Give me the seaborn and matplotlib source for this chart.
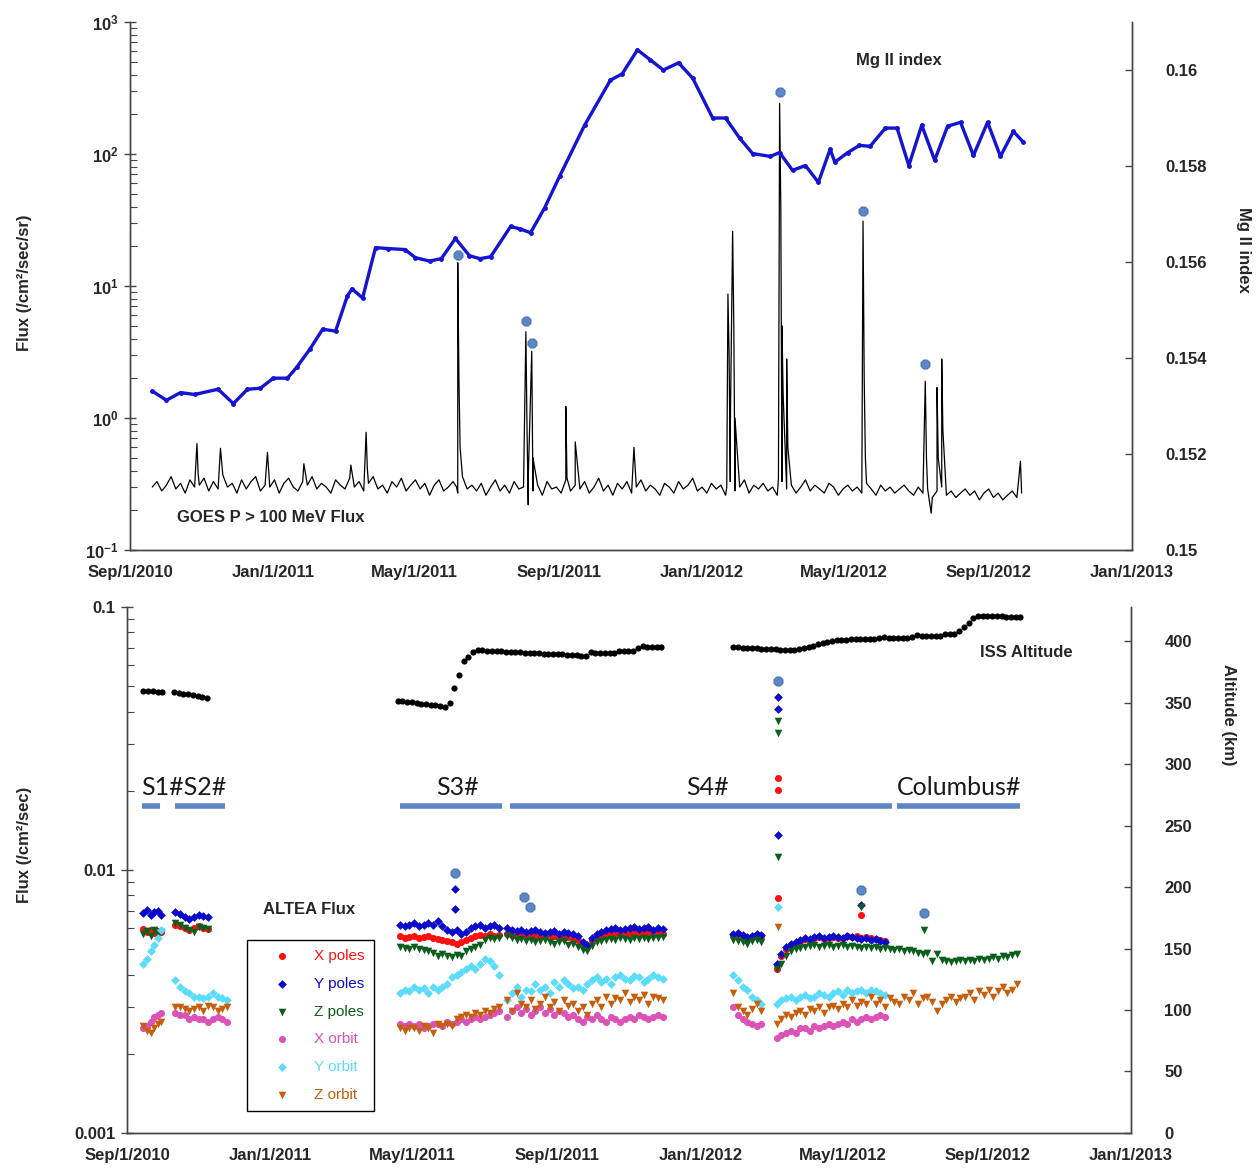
import numpy as np
import pandas as pd
import matplotlib
matplotlib.use("Agg")
import matplotlib.pyplot as plt
import matplotlib.dates as mdates
from matplotlib.ticker import LogLocator, FixedLocator, NullFormatter, FuncFormatter, LogFormatterMathtext
import seaborn as sns

# ---------------- data ----------------
# GOES P > 100 MeV background, one value every 4 days from 2010-09-20
goes_bg_start = "2010-09-20"
goes_bg = [
    0.30, 0.33, 0.28, 0.31, 0.36, 0.29, 0.32, 0.27, 0.34, 0.30,
    0.31, 0.35, 0.28, 0.33, 0.29, 0.37, 0.30, 0.32, 0.27, 0.34,
    0.29, 0.33, 0.36, 0.28, 0.31, 0.30, 0.34, 0.27, 0.32, 0.35,
    0.30, 0.28, 0.33, 0.31, 0.36, 0.29, 0.32, 0.30, 0.27, 0.34,
    0.31, 0.29, 0.35, 0.30, 0.33, 0.28, 0.32, 0.36, 0.29, 0.31,
    0.27, 0.33, 0.30, 0.35, 0.28, 0.31, 0.34, 0.29, 0.32, 0.26,
    0.31, 0.34, 0.28, 0.30, 0.33, 0.27, 0.36, 0.29, 0.31, 0.28,
    0.32, 0.26, 0.30, 0.34, 0.28, 0.31, 0.27, 0.33, 0.29, 0.30,
    0.35, 0.28, 0.31, 0.26, 0.33, 0.29, 0.30, 0.27, 0.34, 0.28,
    0.31, 0.29, 0.33, 0.27, 0.30, 0.35, 0.28, 0.31, 0.26, 0.32,
    0.29, 0.33, 0.27, 0.30, 0.34, 0.28, 0.31, 0.29, 0.26, 0.32,
    0.30, 0.27, 0.33, 0.29, 0.31, 0.35, 0.28, 0.30, 0.27, 0.32,
    0.29, 0.31, 0.26, 0.33, 0.28, 0.30, 0.34, 0.27, 0.31, 0.29,
    0.32, 0.28, 0.30, 0.26, 0.33, 0.29, 0.31, 0.27, 0.30, 0.34,
    0.28, 0.31, 0.29, 0.27, 0.32, 0.30, 0.26, 0.29, 0.31, 0.28,
    0.30, 0.27, 0.32, 0.29, 0.26, 0.31, 0.28, 0.30, 0.27, 0.29,
    0.31, 0.28, 0.26, 0.30, 0.27, 0.29, 0.25, 0.28, 0.30, 0.26,
    0.28, 0.25, 0.27, 0.29, 0.26, 0.28, 0.24, 0.27, 0.29, 0.25,
    0.27, 0.24, 0.26, 0.28, 0.25, 0.27,
]
# GOES event days (peaks and decay)
goes_evt_dates = [
    "2010-10-28", "2010-10-29", "2010-11-17", "2010-12-27", "2011-01-27",
    "2011-03-08", "2011-03-21", "2011-03-22",
    "2011-06-06", "2011-06-07", "2011-06-08", "2011-06-09",
    "2011-08-04", "2011-08-05", "2011-08-06", "2011-08-09", "2011-08-10",
    "2011-09-07", "2011-09-08", "2011-09-15", "2011-11-04",
    "2012-01-22", "2012-01-23", "2012-01-24", "2012-01-25",
    "2012-01-27", "2012-01-28", "2012-01-29",
    "2012-03-06", "2012-03-07", "2012-03-08", "2012-03-09", "2012-03-10",
    "2012-03-13", "2012-03-14",
    "2012-05-16", "2012-05-17", "2012-05-18", "2012-05-19",
    "2012-07-09", "2012-07-10", "2012-07-14", "2012-07-19", "2012-07-20",
    "2012-07-23", "2012-07-24", "2012-09-28",
]
goes_evt_flux = [
    0.64, 0.38, 0.59, 0.55, 0.45,
    0.44, 0.78, 0.42,
    0.30, 15.0, 2.0, 0.6,
    4.5, 0.8, 0.22, 3.2, 0.5,
    1.22, 0.35, 0.66, 0.60,
    0.30, 8.7, 3.0, 0.8,
    26.0, 5.0, 1.0,
    0.35, 242.0, 40.0, 5.0, 1.5,
    2.8, 0.6,
    0.30, 31.0, 2.0, 0.5,
    1.9, 0.5, 0.19, 1.7, 0.5,
    2.8, 0.8, 0.47,
]

# Mg II index
mg_dates = [
    "2010-09-20", "2010-10-02", "2010-10-14", "2010-10-26", "2010-11-15", "2010-11-28",
    "2010-12-10", "2010-12-21", "2011-01-01", "2011-01-13", "2011-01-21", "2011-02-01",
    "2011-02-12", "2011-02-23", "2011-03-05", "2011-03-09", "2011-03-18", "2011-03-29",
    "2011-04-09", "2011-04-23", "2011-05-02", "2011-05-14", "2011-05-24", "2011-06-05",
    "2011-06-17", "2011-06-26", "2011-07-05", "2011-07-22", "2011-07-30", "2011-08-08",
    "2011-08-20", "2011-09-02", "2011-09-23", "2011-10-15", "2011-10-25", "2011-11-07",
    "2011-11-18", "2011-11-29", "2011-12-12", "2011-12-24", "2012-01-10", "2012-01-21",
    "2012-02-02", "2012-02-13", "2012-02-28", "2012-03-07", "2012-03-18", "2012-03-29",
    "2012-04-09", "2012-04-19", "2012-04-23", "2012-05-04", "2012-05-14", "2012-05-23",
    "2012-06-05", "2012-06-15", "2012-06-25", "2012-07-06", "2012-07-17", "2012-07-28",
    "2012-08-08", "2012-08-19", "2012-08-31", "2012-09-11", "2012-09-22", "2012-09-30",
]
mg_index = [
    0.15331, 0.15312, 0.15328, 0.15324, 0.15335, 0.15305,
    0.15335, 0.15337, 0.15358, 0.15358, 0.15381, 0.15418,
    0.15460, 0.15456, 0.15529, 0.15544, 0.15525, 0.15630,
    0.15628, 0.15626, 0.15609, 0.15602, 0.15607, 0.15649,
    0.15613, 0.15607, 0.15611, 0.15674, 0.15669, 0.15661,
    0.15713, 0.15780, 0.15885, 0.15979, 0.15992, 0.16042,
    0.16021, 0.16000, 0.16015, 0.15983, 0.15900, 0.15900,
    0.15858, 0.15826, 0.15820, 0.15828, 0.15791, 0.15801,
    0.15766, 0.15835, 0.15808, 0.15828, 0.15843, 0.15841,
    0.15879, 0.15879, 0.15801, 0.15885, 0.15812, 0.15883,
    0.15891, 0.15822, 0.15891, 0.15820, 0.15872, 0.15851,
]

# solar particle events marked with a star
event_dates = ["2011-06-07", "2011-08-04", "2011-08-09", "2012-03-07", "2012-05-17", "2012-07-09"]
event_goes = [17.2, 5.42, 3.68, 294.0, 37.2, 2.55]
event_altea = [9.75e-3, 7.89e-3, 7.23e-3, 52.3e-3, 8.4e-3, 6.87e-3]

# ALTEA sessions: first day and sampling step (days)
seg_start = {"S1": "2010-09-15", "S2": "2010-10-12", "S3": "2011-04-21",
             "S4a": "2011-07-21", "S4b": "2012-01-29", "S4c": "2012-03-06"}
seg_step = {"S1": 3, "S2": 4, "S3": 4, "S4a": 4, "S4b": 4, "S4c": 4}

# ALTEA flux, units of 1e-3 /cm2/s
x_poles = {
    "S1": [5.95, 5.8, 5.9, 5.75, 5.85, 5.8],
    "S2": [6.2, 6.1, 6.0, 5.9, 6.0, 6.1, 6.0, 5.95],
    "S3": [5.6, 5.5, 5.55, 5.6, 5.5, 5.55, 5.6, 5.5, 5.45, 5.4, 5.35, 5.3, 5.25, 5.3,
           5.4, 5.5, 5.6, 5.65, 5.6, 5.7, 5.6, 5.65],
    "S4a": [5.7, 5.65, 5.6, 5.7, 5.6, 5.65, 5.6, 5.55, 5.6, 5.65, 5.6, 5.55, 5.5, 5.55,
            5.5, 5.4, 5.2, 5.1, 5.4, 5.5, 5.6, 5.65, 5.7, 5.75, 5.7, 5.7, 5.75, 5.8,
            5.7, 5.75, 5.8, 5.7, 5.75, 5.7],
    "S4b": [5.65, 5.7, 5.6, 5.5, 5.55, 5.65, 5.6],
    "S4c": [4.2, 4.7, 5.0, 5.2, 5.25, 5.35, 5.45, 5.4, 5.5, 5.55, 5.45, 5.5, 5.55, 5.5,
            5.5, 5.6, 5.55, 5.6, 5.5, 5.55, 5.5, 5.45, 5.4, 5.35],
}
y_poles = {
    "S1": [6.87, 7.05, 6.75, 6.9, 6.95, 6.75],
    "S2": [6.9, 6.8, 6.6, 6.5, 6.6, 6.75, 6.7, 6.6],
    "S3": [6.2, 6.1, 6.2, 6.3, 6.1, 6.2, 6.3, 6.2, 6.4, 6.1, 5.9, 5.8, 5.9, 5.7,
           5.8, 6.0, 6.1, 6.2, 6.0, 6.1, 6.2, 6.0],
    "S4a": [6.0, 5.9, 5.85, 5.9, 5.8, 5.85, 5.9, 5.8, 5.75, 5.8, 5.85, 5.7, 5.8, 5.75,
            5.7, 5.6, 5.3, 5.2, 5.5, 5.7, 5.8, 5.9, 5.95, 6.0, 5.9, 5.95, 6.0, 6.05,
            5.95, 6.0, 6.05, 5.9, 6.0, 5.95],
    "S4b": [5.7, 5.75, 5.65, 5.55, 5.6, 5.7, 5.65],
    "S4c": [4.4, 4.8, 5.1, 5.25, 5.3, 5.4, 5.5, 5.45, 5.55, 5.6, 5.5, 5.55, 5.6, 5.55,
            5.5, 5.6, 5.55, 5.5, 5.45, 5.5, 5.4, 5.45, 5.35, 5.3],
}
z_poles = {
    "S1": [5.7, 5.85, 5.6, 5.9, 5.7, 5.8],
    "S2": [6.3, 6.2, 6.0, 5.9, 5.8, 6.05, 6.0, 5.95],
    "S3": [5.1, 5.05, 5.0, 5.1, 5.0, 4.95, 4.9, 4.85, 4.7, 4.8, 4.7, 4.65, 4.75, 4.7,
           4.9, 5.0, 5.1, 5.2, 5.4, 5.5, 5.45, 5.5],
    "S4a": [5.6, 5.5, 5.4, 5.45, 5.35, 5.4, 5.3, 5.35, 5.4, 5.3, 5.25, 5.3, 5.35, 5.2,
            5.25, 5.1, 4.95, 4.9, 5.15, 5.3, 5.35, 5.4, 5.45, 5.4, 5.5, 5.45, 5.4, 5.5,
            5.45, 5.5, 5.45, 5.5, 5.5, 5.55],
    "S4b": [5.4, 5.35, 5.3, 5.25, 5.35, 5.4, 5.3],
    "S4c": [4.2, 4.4, 4.7, 4.9, 5.0, 5.05, 5.1, 5.15, 5.2, 5.1,
            5.15, 5.2, 5.1, 5.15, 5.2, 5.1, 5.15, 5.1, 5.05, 5.1,
            5.05, 5.1, 5.0, 5.05, 5.0, 4.95, 5.0, 4.9, 4.95, 4.9,
            4.85, 4.8, 4.85, 4.5, 4.8, 4.55, 4.5, 4.45, 4.5, 4.55,
            4.5, 4.55, 4.5, 4.6, 4.55, 4.6, 4.65, 4.6, 4.7, 4.65, 4.75, 4.8],
}
x_orbit = {
    "S1": [2.5, 2.55, 2.65, 2.75, 2.8, 2.85],
    "S2": [2.85, 2.8, 2.8, 2.7, 2.75, 2.7, 2.7, 2.65, 2.7, 2.75, 2.7, 2.65],
    "S3": [2.6, 2.55, 2.6, 2.55, 2.6, 2.5, 2.55, 2.6, 2.6, 2.55, 2.65, 2.6, 2.65, 2.7,
           2.65, 2.7, 2.75, 2.7, 2.75, 2.8, 2.85, 2.9],
    "S4a": [2.75, 2.9, 3.0, 2.85, 2.95, 2.8, 2.9, 3.0, 2.85, 2.95, 2.8, 2.9, 2.85, 2.75,
            2.8, 2.7, 2.65, 2.75, 2.7, 2.8, 2.7, 2.65, 2.75, 2.7, 2.65, 2.7, 2.75, 2.7,
            2.8, 2.75, 2.7, 2.75, 2.8, 2.75],
    "S4b": [3.0, 2.8, 2.7, 2.65, 2.6, 2.55, 2.6],
    "S4c": [2.3, 2.35, 2.4, 2.45, 2.4, 2.5, 2.5, 2.45, 2.55, 2.5, 2.55, 2.6, 2.55, 2.6,
            2.65, 2.6, 2.7, 2.65, 2.7, 2.75, 2.7, 2.75, 2.8, 2.75],
}
y_orbit = {
    "S1": [4.4, 4.6, 4.9, 5.2, 5.5, 5.9],
    "S2": [3.8, 3.6, 3.45, 3.4, 3.3, 3.3, 3.25, 3.3, 3.4, 3.3, 3.25, 3.2],
    "S3": [3.4, 3.5, 3.45, 3.6, 3.5, 3.55, 3.4, 3.6, 3.5, 3.6, 3.7, 3.9, 4.0, 4.1,
           4.2, 4.3, 4.2, 4.4, 4.6, 4.5, 4.3, 4.0],
    "S4a": [3.2, 3.4, 3.6, 3.3, 3.5, 3.45, 3.7, 3.5, 3.6, 3.4, 3.75, 3.6, 3.8, 3.7,
            3.55, 3.6, 3.5, 3.7, 3.8, 3.9, 3.75, 3.85, 3.7, 3.9, 4.0, 3.85, 3.8, 3.95,
            3.9, 3.75, 3.85, 4.0, 3.9, 3.85],
    "S4b": [4.0, 3.8, 3.6, 3.5, 3.3, 3.2, 3.1],
    "S4c": [3.1, 3.2, 3.25, 3.3, 3.2, 3.3, 3.35, 3.25, 3.3, 3.4, 3.35, 3.3, 3.4, 3.45,
            3.35, 3.5, 3.4, 3.45, 3.5, 3.4, 3.5, 3.45, 3.4, 3.35],
}
z_orbit = {
    "S1": [2.55, 2.45, 2.4, 2.5, 2.6, 2.65],
    "S2": [3.0, 3.0, 2.95, 2.9, 2.95, 3.0, 2.9, 3.05, 3.0, 2.9, 2.95, 3.0],
    "S3": [2.5, 2.45, 2.5, 2.5, 2.45, 2.55, 2.5, 2.4, 2.6, 2.55, 2.6, 2.55, 2.7, 2.75,
           2.8, 2.75, 2.85, 2.8, 2.9, 2.85, 2.95, 3.0],
    "S4a": [3.2, 2.9, 3.4, 3.1, 3.0, 3.2, 2.95, 3.1, 3.3, 3.0, 3.15, 2.9, 3.2, 3.05,
            3.1, 2.9, 3.0, 2.8, 3.1, 3.2, 3.0, 3.3, 3.1, 3.25, 3.2, 3.4, 3.15, 3.3,
            3.2, 3.35, 3.1, 3.3, 3.25, 3.2],
    "S4b": [3.4, 3.0, 2.9, 2.8, 2.95, 3.1, 2.9],
    "S4c": [2.6, 2.7, 2.8, 2.75, 2.85, 2.9, 2.8, 2.95, 2.9, 3.0,
            2.85, 3.0, 3.05, 2.95, 3.1, 3.0, 3.2, 3.05, 3.15, 3.1,
            3.3, 3.1, 3.2, 3.0, 3.25, 3.15, 3.1, 3.3, 3.2, 3.4,
            3.1, 3.25, 3.3, 3.15, 2.9, 3.1, 3.2, 3.3, 3.15, 3.25,
            3.3, 3.4, 3.2, 3.45, 3.35, 3.5, 3.3, 3.45, 3.6, 3.4, 3.5, 3.7],
}
# extra readings on event days (date, value in 1e-3)
event_extra = {
    "X poles": [("2012-03-07", 22.4), ("2012-03-07", 20.1), ("2012-03-07", 7.8), ("2012-05-17", 6.75)],
    "Y poles": [("2011-06-07", 8.47), ("2011-06-07", 7.1), ("2012-03-07", 45.5),
                ("2012-03-07", 40.9), ("2012-03-07", 13.6), ("2012-05-17", 7.36)],
    "Z poles": [("2012-03-07", 36.9), ("2012-03-07", 33.2), ("2012-03-07", 11.2),
                ("2012-05-17", 7.2), ("2012-07-09", 5.9)],
    "X orbit": [],
    "Y orbit": [("2012-03-07", 7.2)],
    "Z orbit": [("2012-03-07", 6.07)],
}

# ISS altitude (km), one value every 4 days per block
alt_start = ["2010-09-15", "2010-10-11", "2011-04-19", "2012-01-29"]
alt_values = [
    [360.0, 359.6, 359.2, 358.9, 358.5],
    [358.5, 358.0, 357.5, 357.0, 356.3, 355.6, 355.0, 354.3],
    [351.8, 351.3, 350.8, 350.3, 349.8, 349.3, 348.8, 348.3, 347.8, 347.3, 346.8,
     350.0, 362.0, 373.0, 384.0, 387.5, 391.0, 392.7,
     392.6, 392.4, 392.3, 392.0, 391.8, 391.7, 391.4, 391.2, 391.1, 390.8, 390.6,
     390.5, 390.2, 390.0, 389.9, 389.6, 389.4, 389.3, 389.0, 388.8, 388.7, 388.4,
     388.2, 391.0, 390.9, 390.7, 390.6, 390.4, 390.3, 392.5, 392.4, 392.2,
     392.1, 394.2, 396.0, 395.8, 395.7, 395.5, 395.4],
    [395.2, 395.0, 394.8, 394.6, 394.4, 394.3, 394.1, 393.9, 393.7, 393.5, 393.3, 393.2, 393.0, 392.8,
     393.5, 394.8, 395.6, 396.4, 397.5, 398.3,
     399.8, 400.5, 401.2, 401.1, 400.9, 401.5, 402.2, 402.0,
     401.9, 401.8, 401.7, 402.6, 403.3, 403.1, 403.0, 402.9, 402.8, 402.7, 403.9,
     404.8, 404.6, 404.5, 404.4, 404.3, 404.2, 405.6, 406.3, 406.1, 408.2,
     411.5, 415.0, 419.0, 421.0,
     420.8, 420.7, 420.5, 420.4, 420.3, 420.1, 420.0, 419.9, 419.7],
]

# ALTEA session periods
session_names = ["S1#S2#", "S3#", "S4#", "Columbus#"]
session_begin = ["2010-09-14", "2010-10-12", "2011-04-21", "2011-07-23", "2012-06-16"]
session_end = ["2010-09-29", "2010-11-23", "2011-07-17", "2012-06-12", "2012-09-29"]
session_level = 0.0175

series_names = ["X poles", "Y poles", "Z poles", "X orbit", "Y orbit", "Z orbit"]
series_data = [x_poles, y_poles, z_poles, x_orbit, y_orbit, z_orbit]
series_colors = ["#ff1010", "#0a0acc", "#0b5e1c", "#dc52b8", "#5adcfa", "#c65e0c"]
series_markers = ["o", "D", "v", "o", "D", "v"]
series_sizes = [26, 20, 30, 26, 20, 30]


def altea_frame(segs, extra):
    rows = []
    for key, vals in segs.items():
        d = pd.date_range(seg_start[key], periods=len(vals), freq=f"{seg_step[key]}D")
        rows.append(pd.DataFrame({"date": d, "flux": np.array(vals) * 1e-3}))
    if extra:
        rows.append(pd.DataFrame({"date": pd.to_datetime([e[0] for e in extra]),
                                  "flux": [e[1] * 1e-3 for e in extra]}))
    return pd.concat(rows, ignore_index=True)


goes_df = pd.concat([
    pd.DataFrame({"date": pd.date_range(goes_bg_start, periods=len(goes_bg), freq="4D"),
                  "flux": goes_bg}),
    pd.DataFrame({"date": pd.to_datetime(goes_evt_dates), "flux": goes_evt_flux}),
]).sort_values("date").reset_index(drop=True)

mg_df = pd.DataFrame({"date": pd.to_datetime(mg_dates), "mg": mg_index})

alt_df = pd.concat([
    pd.DataFrame({"date": pd.date_range(s, periods=len(v), freq="4D"), "alt": v})
    for s, v in zip(alt_start, alt_values)
], ignore_index=True)

ev = pd.to_datetime(event_dates)

# ---------------- style ----------------
sns.set_theme(style="white")
plt.rcParams['font.family'] = ['Liberation Sans', 'DejaVu Sans']
plt.rcParams['mathtext.default'] = 'bf'

fig = plt.figure(figsize=(12.56, 11.71), dpi=100)
ax1 = fig.add_axes([0.1035, 0.5303, 0.7978, 0.4509])
ax2 = fig.add_axes([0.1011, 0.0325, 0.7994, 0.4492])
ax1r = ax1.twinx()
ax2r = ax2.twinx()

xmin, xmax = pd.Timestamp("2010-09-01"), pd.Timestamp("2013-01-01")
date_ticks = pd.date_range("2010-09-01", "2013-01-01", freq="4MS")
star_color = "#5b87c6"


def date_label(x, pos):
    d = mdates.num2date(x)
    return f"{d:%b}/{d.day}/{d.year}"


# ---------------- top panel ----------------
sns.lineplot(data=goes_df, x="date", y="flux", estimator=None, sort=True,
             color="black", lw=0.9, ax=ax1)
sns.scatterplot(x=ev, y=event_goes, marker="8", s=50, color=star_color,
                edgecolor="#3d6aa8", linewidth=0.6, ax=ax1, zorder=5)
ax1.set_yscale("log")
ax1.set_ylim(0.1, 1000)
sns.lineplot(data=mg_df, x="date", y="mg", color="#1414d2", lw=2.4, marker="o",
             markersize=3.5, markeredgewidth=0, ax=ax1r)
ax1r.set_ylim(0.150, 0.161)
ax1r.yaxis.set_major_locator(FixedLocator([0.150, 0.152, 0.154, 0.156, 0.158, 0.160]))
ax1r.yaxis.set_major_formatter(FuncFormatter(lambda v, p: f"{v:.3f}".rstrip("0")))

ax1.text(0.7246, 0.928, "Mg II index", transform=ax1.transAxes, fontsize=12,
         fontweight="bold", va="center")
ax1.text(0.0469, 0.0625, "GOES P > 100 MeV Flux", transform=ax1.transAxes, fontsize=12,
         fontweight="bold", va="center")

# ---------------- bottom panel ----------------
for name, segs, col, mk, sz in zip(series_names, series_data, series_colors,
                                   series_markers, series_sizes):
    df = altea_frame(segs, event_extra[name])
    sns.scatterplot(data=df, x="date", y="flux", marker=mk, s=sz, color=col,
                    linewidth=0, label=name, ax=ax2)
sns.scatterplot(x=ev, y=event_altea, marker="8", s=50, color=star_color,
                edgecolor="#3d6aa8", linewidth=0.6, ax=ax2, zorder=5)
for b, e in zip(session_begin, session_end):
    ax2.plot([pd.Timestamp(b), pd.Timestamp(e)], [session_level, session_level],
             color="#5b87c6", lw=4, solid_capstyle="butt", zorder=1)
ax2.set_yscale("log")
ax2.set_ylim(0.001, 0.1)
ax2.yaxis.set_major_locator(FixedLocator([0.001, 0.01, 0.1]))
ax2.yaxis.set_major_formatter(FuncFormatter(lambda v, p: f"{v:g}"))

sns.scatterplot(data=alt_df, x="date", y="alt", color="black", s=20, linewidth=0, ax=ax2r)
ax2r.set_ylim(0, 428)
ax2r.yaxis.set_major_locator(FixedLocator(np.arange(0, 401, 50)))

seg_text_x = [0.0139, 0.3078, 0.5568, 0.7669]
for name, tx in zip(session_names, seg_text_x):
    ax2.text(tx, 0.656, name, transform=ax2.transAxes, fontsize=18,
             family="Lato", color="#1a1a1a", va="center")
ax2.text(0.8496, 0.9125, "ISS Altitude", transform=ax2.transAxes, fontsize=12,
         fontweight="bold", va="center")
ax2.text(0.1355, 0.424, "ALTEA Flux", transform=ax2.transAxes, fontsize=12,
         fontweight="bold", va="center")

leg = ax2.legend(loc="upper left", bbox_to_anchor=(0.1195, 0.367), fontsize=11,
                 frameon=True, fancybox=False, edgecolor="black", framealpha=1,
                 borderpad=0.6, labelspacing=0.9, handlelength=3.4,
                 handletextpad=0.4, scatterpoints=1, borderaxespad=0)
leg.get_frame().set_linewidth(1.0)
for t, c in zip(leg.get_texts(), series_colors):
    t.set_color(c)

# ---------------- axes cosmetics ----------------
for ax in (ax1, ax2):
    ax.set_xlim(xmin, xmax)
    ax.xaxis.set_major_locator(FixedLocator(mdates.date2num(date_ticks)))
    ax.xaxis.set_major_formatter(FuncFormatter(date_label))
    ax.yaxis.set_minor_locator(LogLocator(base=10, subs=np.arange(2, 10)))
    ax.yaxis.set_minor_formatter(NullFormatter())
    ax.tick_params(axis="x", which="major", direction="out", length=5, width=1,
                   color="#444444", pad=6)
    ax.tick_params(axis="y", which="major", direction="inout", length=8, width=1,
                   color="#444444", pad=4)
    ax.tick_params(axis="y", which="minor", direction="in", length=5, width=0.8,
                   color="#444444", left=True)
    ax.set_xlabel("")
    for lab in ax.get_xticklabels() + ax.get_yticklabels():
        lab.set_fontsize(12)
        lab.set_fontweight("bold")
for ax in (ax1r, ax2r):
    ax.tick_params(axis="y", which="major", direction="in", length=5, width=1,
                   color="#444444", pad=24)
    for lab in ax.get_yticklabels():
        lab.set_fontsize(12)
        lab.set_fontweight("bold")
for ax in (ax1, ax2, ax1r, ax2r):
    ax.spines["top"].set_visible(False)
    for s in ("left", "right", "bottom"):
        ax.spines[s].set_color("#444444")
        ax.spines[s].set_linewidth(1.0)

ax1.yaxis.set_major_formatter(LogFormatterMathtext())

ax1.set_ylabel("Flux (/cm²/sec/sr)", fontsize=12, fontweight="bold")
ax1.yaxis.set_label_coords(-0.098, 0.506)
ax2.set_ylabel("Flux (/cm²/sec)", fontsize=12, fontweight="bold")
ax2.yaxis.set_label_coords(-0.095, 0.5475)
ax1r.set_ylabel("Mg II index", fontsize=12, fontweight="bold", rotation=-90, va="center")
ax1r.yaxis.set_label_coords(1.111, 0.568)
ax2r.set_ylabel("Altitude (km)", fontsize=12, fontweight="bold", rotation=-90, va="center")
ax2r.yaxis.set_label_coords(1.097, 0.795)

fig.savefig("out.png", dpi=100)
